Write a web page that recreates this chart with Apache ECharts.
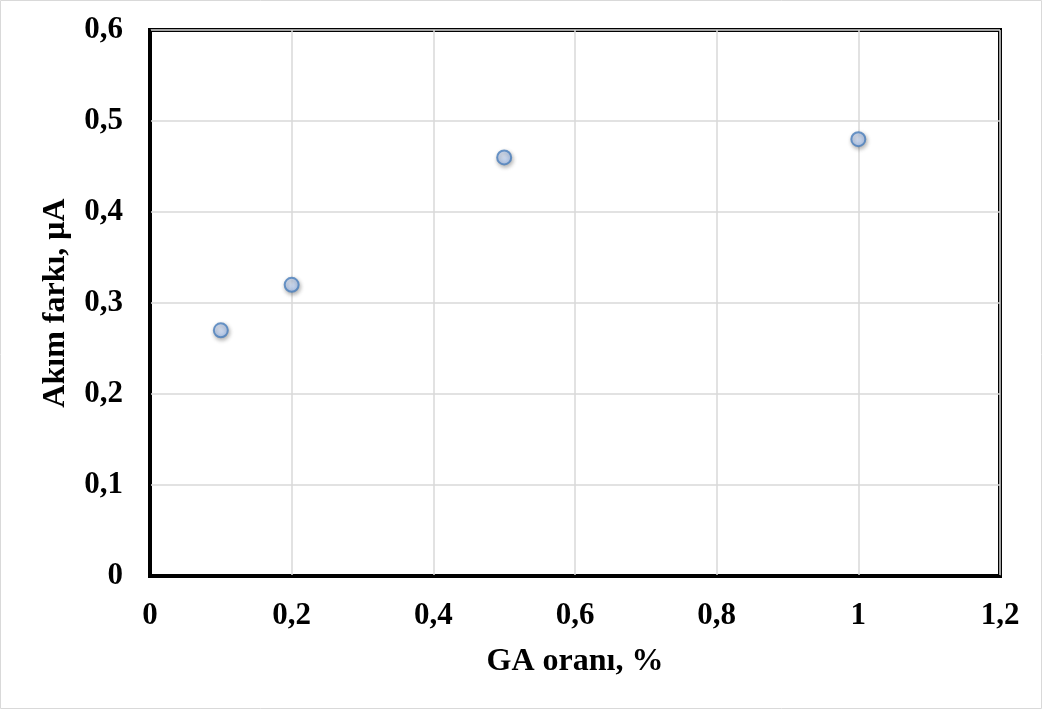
<!DOCTYPE html>
<html>
<head>
<meta charset="utf-8">
<script src="https://cdn.jsdelivr.net/npm/echarts@6/dist/echarts.min.js"></script>
<style>
html, body { margin: 0; padding: 0; background: #fff; }
#main { width: 1043px; height: 711px; }
</style>
</head>
<body>
<div id="main"></div>
<script>
// veriler
var gaOrani = [0.1, 0.2, 0.5, 1];
var akimFarki = [0.27, 0.32, 0.46, 0.48];
var xTitle = 'GA oranı, %';
var yTitle = 'Akım farkı, μA';

var points = gaOrani.map(function (x, i) { return [x, akimFarki[i]]; });

function virgul(v) {
    return String(Math.round(v * 10) / 10).replace('.', ',');
}

var font = '"Liberation Serif", "Times New Roman", serif';
var myChart = echarts.init(document.getElementById('main'));
var option = {
    animation: false,
    graphic: [{
        type: 'rect',
        shape: { x: 0.5, y: 0.5, width: 1041, height: 708 },
        style: { fill: 'none', stroke: '#d9d9d9', lineWidth: 1 },
        silent: true
    }],
    grid: {
        left: 150, right: 43, top: 30, bottom: 135,
        show: true,
        borderColor: '#000',
        borderWidth: 4,
        backgroundColor: '#fff'
    },
    xAxis: {
        type: 'value',
        min: 0, max: 1.2, interval: 0.2,
        name: xTitle,
        nameLocation: 'middle',
        nameGap: 70,
        nameTextStyle: { fontFamily: font, fontWeight: 'bold', fontSize: 32, color: '#000' },
        axisLine: { show: true, lineStyle: { color: '#000', width: 2 } },
        axisTick: { show: false },
        splitLine: { show: true, lineStyle: { color: '#d9d9d9', width: 1.5 } },
        axisLabel: {
            formatter: virgul,
            margin: 24,
            fontFamily: font, fontWeight: 'bold', fontSize: 31, color: '#000'
        }
    },
    yAxis: {
        type: 'value',
        min: 0, max: 0.6, interval: 0.1,
        name: yTitle,
        nameLocation: 'middle',
        nameGap: 78,
        nameRotate: 90,
        nameTextStyle: { fontFamily: font, fontWeight: 'bold', fontSize: 32, color: '#000' },
        axisLine: { show: true, lineStyle: { color: '#000', width: 2 } },
        axisTick: { show: false },
        splitLine: { show: true, lineStyle: { color: '#d9d9d9', width: 1.5 } },
        axisLabel: {
            formatter: virgul,
            margin: 27,
            fontFamily: font, fontWeight: 'bold', fontSize: 31, color: '#000'
        }
    },
    series: [{
        type: 'scatter',
        data: points,
        symbol: 'circle',
        symbolSize: 14,
        itemStyle: {
            color: new echarts.graphic.RadialGradient(0.4, 0.35, 0.7, [
                { offset: 0, color: '#dfe9fb' },
                { offset: 1, color: '#a6c3f1' }
            ]),
            borderColor: '#4a7ebb',
            borderWidth: 2,
            shadowColor: 'rgba(0,0,0,0.35)',
            shadowBlur: 4,
            shadowOffsetX: 1,
            shadowOffsetY: 2
        }
    }]
};
myChart.setOption(option);
</script>
</body>
</html>
